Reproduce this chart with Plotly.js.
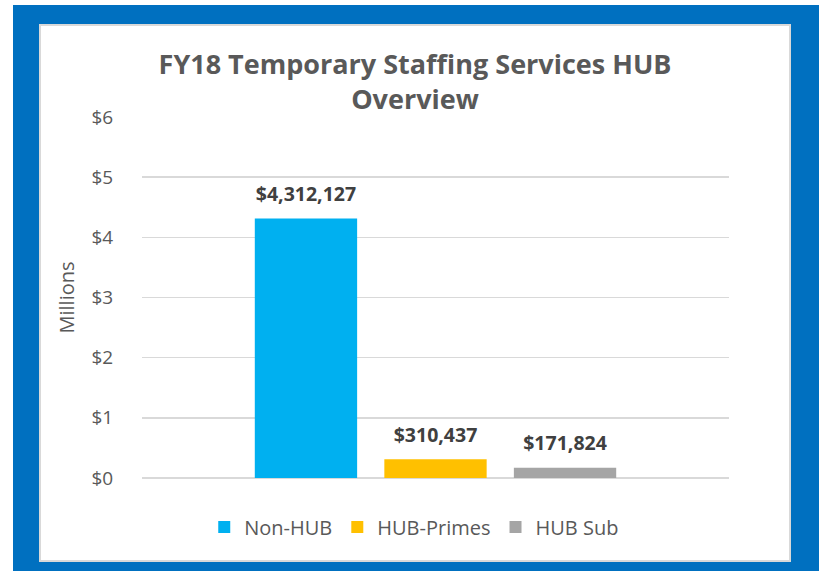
<!DOCTYPE html>
<html>
<head>
<meta charset="utf-8">
<script src="https://cdn.plot.ly/plotly-3.0.1.min.js"></script>
<style>
  html, body { margin: 0; padding: 0; width: 819px; height: 571px; background: #ffffff; overflow: hidden; }
  #frame { position: absolute; left: 13px; top: 5px; width: 806px; height: 566px; background: #0070C0; }
  #card { position: absolute; left: 39px; top: 24px; width: 752px; height: 538px; background: #ffffff;
          box-sizing: border-box; border: 2px solid #d9d9d9; }
  #chart { position: absolute; left: 39px; top: 24px; width: 752px; height: 538px; }
</style>
</head>
<body>
<div id="frame"></div>
<div id="card"></div>
<div id="chart"></div>
<script>
// ---- data ----
const categories = ['FY18'];
const seriesNames = ['Non-HUB', 'HUB-Primes', 'HUB Sub'];
const seriesValues = [4312127, 310437, 171824];   // dollars
const seriesColors = ['#00B0F0', '#FFC000', '#A5A5A5'];
const chartTitle = 'FY18 Temporary Staffing Services HUB<br>Overview';
const yTitle = 'Millions';

const fmt = v => '$' + v.toLocaleString('en-US');

const barTraces = seriesNames.map((name, i) => ({
  type: 'bar',
  name: name,
  x: categories,
  y: [seriesValues[i] / 1e6],
  marker: { color: seriesColors[i] },
  hoverinfo: 'none'
}));

// data labels, grouped the same way as the bars
const labelTraces = seriesNames.map((name, i) => ({
  type: 'scatter',
  mode: 'markers+text',
  name: name + ' label',
  showlegend: false,
  x: categories,
  y: [seriesValues[i] / 1e6],
  text: [fmt(seriesValues[i])],
  textposition: 'top center',
  textfont: { family: 'Open Sans', size: 19.5, color: '#404040', weight: 'bold' },
  marker: { size: 19, opacity: 0, color: seriesColors[i] },
  cliponaxis: false,
  hoverinfo: 'none'
}));

const layout = {
  width: 752,
  height: 538,
  paper_bgcolor: 'rgba(0,0,0,0)',
  plot_bgcolor: 'rgba(0,0,0,0)',
  margin: { l: 103, r: 62, t: 93, b: 84 },
  font: { family: 'Open Sans', color: '#595959' },
  title: {
    text: chartTitle,
    font: { family: 'Open Sans', size: 27, color: '#595959', weight: 'bold' },
    x: 0.5, xref: 'container', xanchor: 'center',
    y: 0.907, yref: 'container', yanchor: 'top'
  },
  barmode: 'group',
  bargap: 0.338,
  bargroupgap: 0.21,
  scattermode: 'group',
  scattergap: 0.338,
  xaxis: {
    type: 'category',
    range: [-0.5, 0.5],
    showticklabels: false,
    showgrid: false,
    zeroline: false,
    showline: false,
    ticks: ''
  },
  yaxis: {
    range: [0, 6],
    dtick: 1,
    tickprefix: '$',
    tickfont: { family: 'Open Sans', size: 19, color: '#595959' },
    showgrid: true,
    gridcolor: '#d9d9d9',
    gridwidth: 1.5,
    zeroline: true,
    zerolinecolor: '#d9d9d9',
    zerolinewidth: 1.5,
    showline: false,
    ticks: 'outside',
    ticklen: 24,
    tickcolor: 'rgba(0,0,0,0)',
    title: { text: yTitle, font: { family: 'Open Sans', size: 20, color: '#595959' }, standoff: 11 }
  },
  showlegend: true,
  legend: {
    orientation: 'h',
    xref: 'container', x: 0.499, xanchor: 'center',
    yref: 'container', y: 0.065, yanchor: 'middle',
    font: { family: 'Open Sans', size: 20, color: '#595959' },
    itemclick: false
  }
};

Plotly.newPlot('chart', barTraces.concat(labelTraces), layout, { displayModeBar: false, staticPlot: true });
</script>
</body>
</html>
